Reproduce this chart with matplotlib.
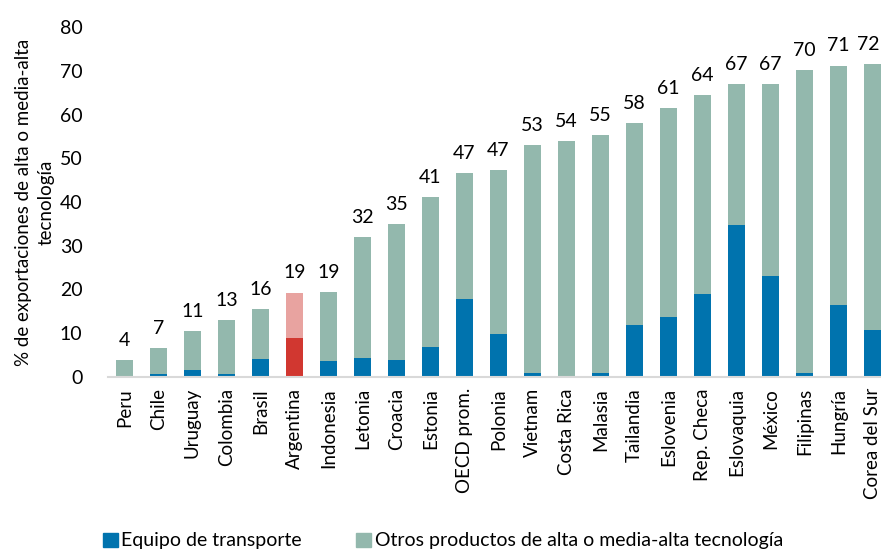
import matplotlib
matplotlib.use("Agg")
import matplotlib.pyplot as plt
import numpy as np
from matplotlib.patches import Patch

plt.rcParams['font.family'] = ['Lato', 'DejaVu Sans']

countries = ["Peru", "Chile", "Uruguay", "Colombia", "Brasil", "Argentina", "Indonesia",
             "Letonia", "Croacia", "Estonia", "OECD prom.", "Polonia", "Vietnam", "Costa Rica",
             "Malasia", "Tailandia", "Eslovenia", "Rep. Checa", "Eslovaquia", "México",
             "Filipinas", "Hungría", "Corea del Sur"]
total = [3.8, 6.6, 10.6, 13.1, 15.6, 19.3, 19.4, 31.9, 35.0, 41.1, 46.7, 47.2, 53.1, 54.0,
         55.4, 58.1, 61.4, 64.4, 66.9, 67.0, 70.1, 71.2, 71.6]
transporte = [0.0, 0.7, 1.6, 0.7, 4.1, 8.9, 3.7, 4.4, 4.0, 6.9, 17.8, 9.9, 1.0, 0.0,
              0.85, 11.9, 13.8, 19.0, 34.8, 23.2, 1.0, 16.5, 10.7]
highlight = "Argentina"

c_trans = "#0073AE"
c_other = "#93B8AD"
c_trans_hl = "#D13730"
c_other_hl = "#E8A3A0"

fig = plt.figure(figsize=(8.81, 5.52), dpi=100)
ax = fig.add_axes([107.5 / 881, 1 - 377 / 552, 782 / 881, 350 / 552])

x = np.arange(len(countries))
otros = [t - tr for t, tr in zip(total, transporte)]
ct = [c_trans_hl if c == highlight else c_trans for c in countries]
co = [c_other_hl if c == highlight else c_other for c in countries]

ax.bar(x, transporte, width=0.5, color=ct, label="Equipo de transporte")
ax.bar(x, otros, width=0.5, bottom=transporte, color=co,
       label="Otros productos de alta o media-alta tecnología")

for i, (xi, t) in enumerate(zip(x, total)):
    dx = -3 if i == len(total) - 1 else 0
    ax.annotate(f"{t:.0f}", (xi, t), xytext=(dx, 8), textcoords="offset points",
                ha="center", va="bottom", fontsize=14)

ax.set_xlim(-0.5, len(countries) - 0.5)
ax.set_ylim(0, 80)
ax.set_yticks(range(0, 81, 10))
ax.set_xticks(x)
ax.set_xticklabels(countries, rotation=90, fontsize=13.5)
ax.tick_params(axis="y", length=0, labelsize=14, pad=18)
ax.tick_params(axis="x", length=0, pad=8)
for s in ["top", "right", "left"]:
    ax.spines[s].set_visible(False)
ax.spines["bottom"].set_color("#d9d9d9")
ax.spines["bottom"].set_linewidth(1.5)

ax.set_ylabel("% de exportaciones de alta o media-alta\ntecnología", fontsize=13.5,
              linespacing=1.35)
ax.yaxis.set_label_coords(-0.068, 0.5)

labels = [h.get_label() for h in ax.containers]
handles = [Patch(color=c_trans), Patch(color=c_other)]
fig.legend(handles, labels, loc="center left", bbox_to_anchor=(0.108, 0.02), ncol=2,
           frameon=False, fontsize=14, handlelength=0.75, handleheight=0.75,
           handletextpad=0.2, columnspacing=2.8, borderaxespad=0)

fig.savefig("out.png", dpi=100)
